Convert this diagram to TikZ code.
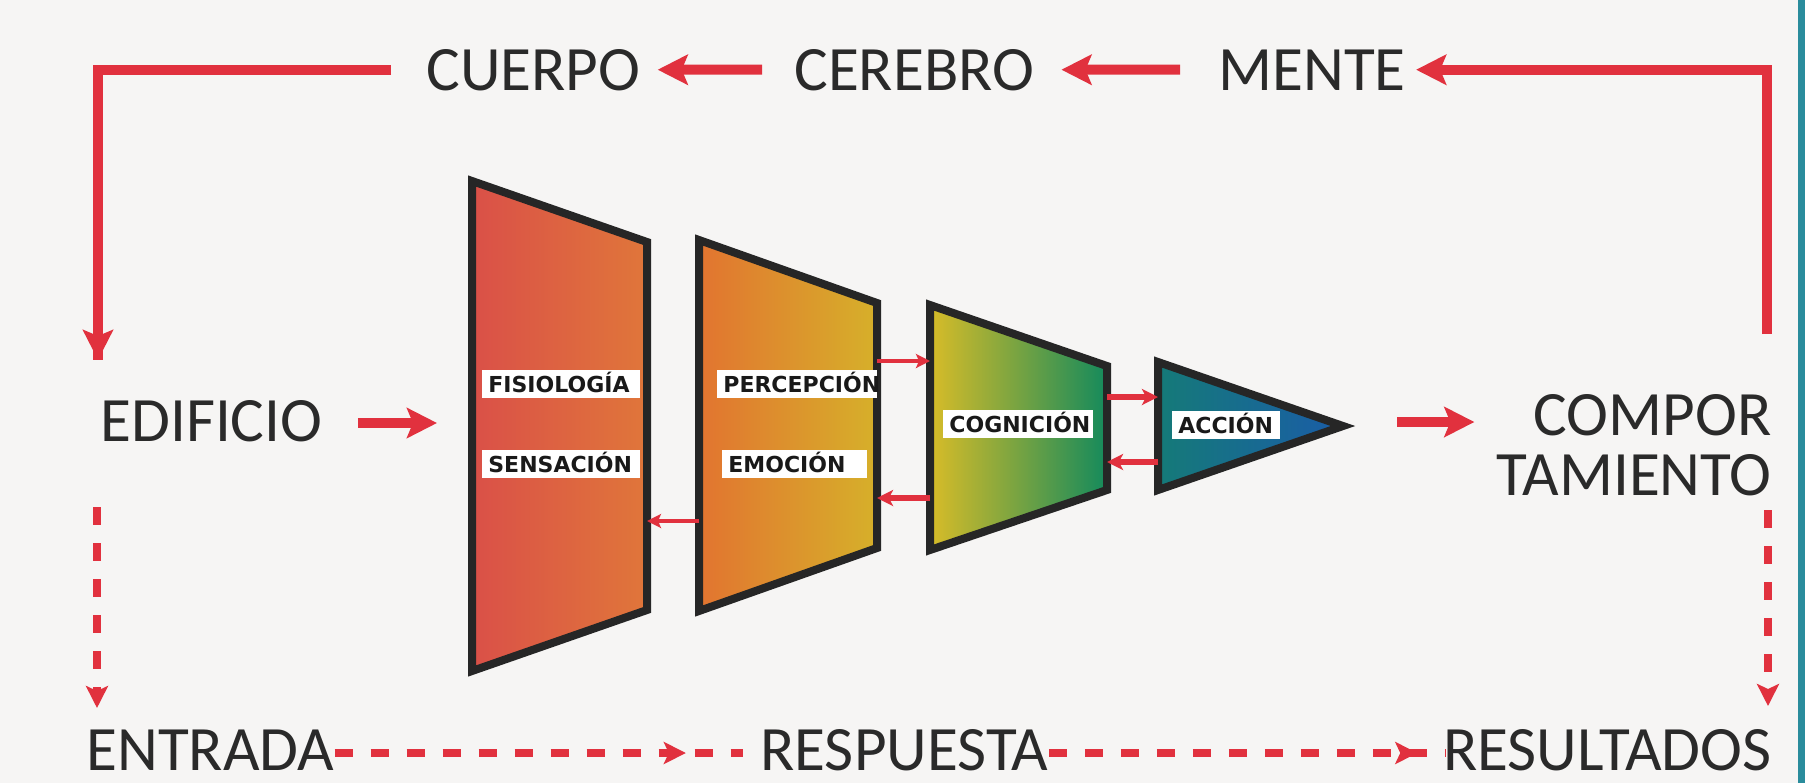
\documentclass[tikz,border=0pt]{standalone}
\usepackage{fontspec}
\setmainfont{Carlito}
\newfontfamily\lblfont{DejaVu Sans}
\usetikzlibrary{arrows.meta,decorations.markings}
\definecolor{bg}{HTML}{F6F5F4}
\definecolor{redl}{HTML}{E1313E}
\definecolor{ink}{HTML}{2A2A2A}
\definecolor{edge}{HTML}{262626}
\definecolor{tealb}{HTML}{2A8C9C}
\definecolor{sA}{HTML}{DA5048}
\definecolor{sB}{HTML}{E0763A}
\definecolor{sC}{HTML}{E27430}
\definecolor{sD}{HTML}{D6B02A}
\definecolor{sE}{HTML}{D8BC28}
\definecolor{sF}{HTML}{148A5C}
\definecolor{sG}{HTML}{157A78}
\definecolor{sH}{HTML}{1A5CA8}
\tikzset{
  bigtxt/.style={font=\fontsize{31.6pt}{38pt}\selectfont, text=ink, inner sep=0pt},
  lbl/.style={fill=white, font=\lblfont\bfseries\fontsize{11pt}{12pt}\selectfont, text=black!90,
    inner xsep=3pt, inner ysep=0pt, minimum height=14pt, text height=8pt, text depth=0pt,
    anchor=west, align=left},
  redline/.style={draw=redl, line width=5pt},
  bigtip/.style={-{Stealth[length=15pt,width=15pt,inset=3pt]}},
  thinred/.style={draw=redl, line width=2pt, -{Stealth[length=7pt,width=7pt,inset=1.5pt]}},
  midred/.style={draw=redl, line width=3pt, -{Stealth[length=8pt,width=8pt,inset=2pt]}},
  dashline/.style={draw=redl, line width=4pt, dash pattern=on 9pt off 9pt},
  dashtip/.style={-{Stealth[length=11pt,width=11pt,inset=2.5pt]}},
  shapeedge/.style={draw=edge, line width=4pt, line join=miter},
  markarrow/.style={postaction={decorate, decoration={markings,
    mark=at position #1 with {\arrow[redl]{Stealth[length=11pt,width=11pt,inset=2.5pt]}}}}}
}
\begin{document}
\begin{tikzpicture}[x=0.5pt,y=-0.5pt]
\fill[bg] (0,0) rectangle (1805,783);
\useasboundingbox (0,0) rectangle (1805,783);
\fill[tealb] (1798,0) rectangle (1805,783);

% text nodes
\node[bigtxt, anchor=base west] (cuerpo) at (426,90) {CUERPO};
\node[bigtxt, anchor=base west] (cerebro) at (794,90) {CEREBRO};
\node[bigtxt, anchor=base west] (mente) at (1218,90) {MENTE};
\node[bigtxt, anchor=base west] (edif) at (100,441) {EDIFICIO};
\node[bigtxt, anchor=base east] (compor) at (1772,435) {COMPOR};
\node[bigtxt, anchor=base east] (tamiento) at (1772,495) {TAMIENTO};
\node[bigtxt, anchor=base west] (entrada) at (86,770) {ENTRADA};
\node[bigtxt, anchor=base west] (respuesta) at (760,770) {RESPUESTA};
\node[bigtxt, anchor=base east] (result) at (1772,770) {RESULTADOS};

% shapes
\coordinate (s1a) at (472,181); \coordinate (s1b) at (647,242);
\coordinate (s1c) at (647,610); \coordinate (s1d) at (472,671);
\coordinate (s2a) at (699,240); \coordinate (s2b) at (877,303);
\coordinate (s2c) at (877,548); \coordinate (s2d) at (699,611);
\coordinate (s3a) at (930,305); \coordinate (s3b) at (1107,366);
\coordinate (s3c) at (1107,490); \coordinate (s3d) at (930,550);
\coordinate (s4a) at (1158,362); \coordinate (s4t) at (1343,426);
\coordinate (s4d) at (1158,490);

\shade[left color=sA, right color=sB] (s1a) -- (s1b) -- (s1c) -- (s1d) -- cycle;
\draw[shapeedge] (s1a) -- (s1b) -- (s1c) -- (s1d) -- cycle;
\shade[left color=sC, right color=sD] (s2a) -- (s2b) -- (s2c) -- (s2d) -- cycle;
\draw[shapeedge] (s2a) -- (s2b) -- (s2c) -- (s2d) -- cycle;
\shade[left color=sE, right color=sF] (s3a) -- (s3b) -- (s3c) -- (s3d) -- cycle;
\draw[shapeedge] (s3a) -- (s3b) -- (s3c) -- (s3d) -- cycle;
\shade[left color=sG, right color=sH] (s4a) -- (s4t) -- (s4d) -- cycle;
\draw[shapeedge] (s4a) -- (s4t) -- (s4d) -- cycle;

% labels
\node[lbl, text width=73pt] (fis) at (482,384) {FISIOLOGÍA};
\node[lbl, text width=73pt] (sen) at (482,464) {SENSACIÓN};
\node[lbl, text width=74pt] (per) at (717,384) {PERCEPCIÓN};
\node[lbl, text width=66.5pt] (emo) at (722,464) {EMOCIÓN};
\node[lbl, text width=69pt] (cog) at (943,424) {COGNICIÓN};
\node[lbl, text width=48pt] (acc) at (1172,425) {ACCIÓN};

% inter-shape connectors
\draw[thinred] (s2d |- 0,521) -- (s1c |- 0,521);
\draw[thinred] (s2b |- 0,361) -- (s3a |- 0,361);
\draw[midred] (s3d |- 0,498) -- (s2c |- 0,498);
\draw[midred] (s3b |- 0,397) -- (s4a |- 0,397);
\draw[midred] (s4d |- 0,462) -- (s3c |- 0,462);

% top loop
\coordinate (edtop) at (98,360);
\coordinate (rc) at (1767,334);
\draw[redline, line join=miter] ([xshift=-17.5pt]cuerpo.west) -| (98,360);
\draw[redline, bigtip] (98,330) -- (edtop);
\draw[redline, bigtip, shorten <=16pt, shorten >=8.5pt] (cerebro.west) -- (cuerpo.east);
\draw[redline, bigtip, shorten <=19pt, shorten >=13.5pt] (mente.west) -- (cerebro.east);
\draw[redline, bigtip, line join=miter] (rc) |- ([xshift=5pt]mente.east);

% middle arrows
\coordinate (s1w) at (472,423);
\draw[redline, bigtip, shorten <=17.5pt, shorten >=17.5pt] (edif.east |- s1w) -- (s1w);
\draw[redline, bigtip, shorten <=27pt, shorten >=29.5pt] (s4t |- 0,422) -- (compor.west |- 0,422);

% dashed verticals
\coordinate (ldtop) at (97,507);
\coordinate (ldbot) at (97,708);
\coordinate (rdtop) at (1768,510);
\coordinate (rdbot) at (1768,706);
\draw[dashline, dashtip] (ldtop) -- (ldbot);
\draw[dashline, dashtip] (rdtop) -- (rdbot);

% dashed bottom
\coordinate (b1) at (743,753);
\coordinate (b2) at (1445,753);
\draw[dashline, markarrow=0.86] (entrada.east |- b1) -- (b1);
\draw[dashline, markarrow=0.93] (respuesta.east |- b2) -- (b2);
\end{tikzpicture}
\end{document}
